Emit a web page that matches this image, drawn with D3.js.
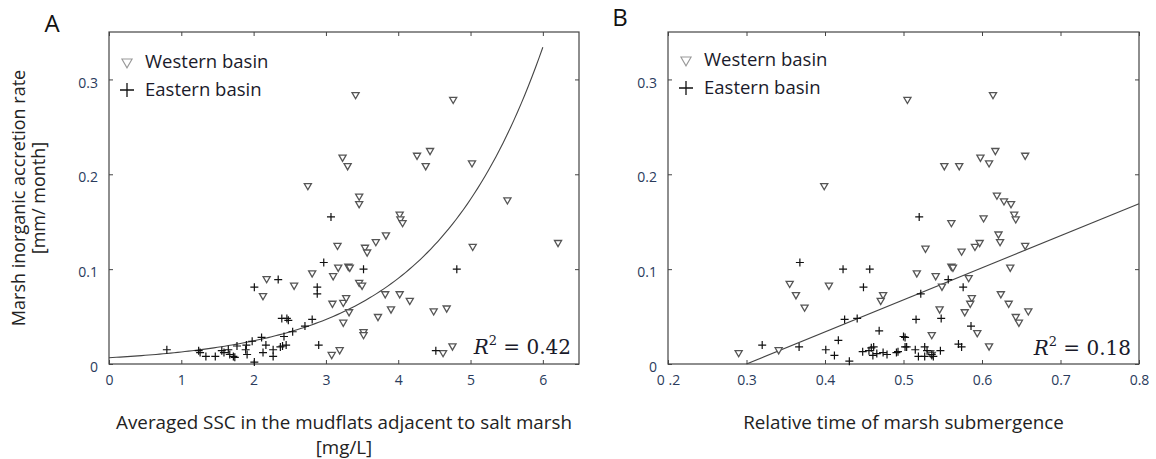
<!DOCTYPE html>
<html><head><meta charset="utf-8">
<script src="https://cdn.jsdelivr.net/npm/d3@7"></script>
<style>
body{margin:0;background:#fff;}
svg{display:block;}
text{font-family:"Open Sans",sans-serif;}
</style></head>
<body><svg id="c" width="1156" height="459"></svg>
<script>
// ---- data ----
const panelLabels = ["A", "B"];
const legendLabels = ["Western basin", "Eastern basin"];
const yTitle = ["Marsh inorganic accretion rate", "[mm/ month]"];
const xTitleA = ["Averaged SSC in the mudflats adjacent to salt marsh", "[mg/L]"];
const xTitleB = ["Relative time of marsh submergence"];
const xTicksA = [0, 1, 2, 3, 4, 5, 6];
const xTicksB = [0.2, 0.3, 0.4, 0.5, 0.6, 0.7, 0.8];
const yTicks = [0, 0.1, 0.2, 0.3];
const r2Values = ["0.42", "0.18"];
// exponential fit y = a*exp(b*x), x range
const fitA = [0.0066, 0.654];
const fitARange = [0, 6.0];
// linear fit y = m*x + c, x range
const fitB = [0.338, -0.1014];
const fitBRange = [0.3, 0.8];

const westernA = [[2.75,0.188],[3.41,0.284],[4.76,0.279],[3.23,0.218],[3.30,0.209],[4.26,0.220],[4.44,0.225],[4.38,0.209],[5.02,0.212],[3.46,0.177],[3.46,0.169],[5.51,0.173],[4.02,0.158],[4.03,0.153],[4.06,0.149],[3.83,0.136],[3.69,0.129],[3.16,0.125],[3.54,0.123],[3.57,0.118],[5.03,0.124],[6.21,0.128],[3.17,0.102],[3.31,0.103],[3.33,0.102],[3.10,0.093],[3.46,0.086],[3.50,0.083],[3.82,0.074],[4.02,0.074],[4.16,0.067],[3.09,0.064],[3.24,0.065],[3.28,0.070],[3.32,0.055],[3.90,0.058],[4.67,0.059],[4.49,0.056],[3.72,0.050],[3.24,0.044],[3.52,0.034],[3.52,0.031],[4.75,0.019],[4.62,0.012],[3.19,0.015],[3.08,0.010],[2.81,0.096],[2.18,0.090],[2.56,0.083],[2.13,0.072]];
const easternA = [[3.07,0.155],[2.97,0.107],[2.34,0.089],[2.01,0.081],[2.88,0.081],[2.88,0.074],[2.39,0.048],[2.46,0.048],[2.48,0.046],[2.81,0.047],[2.71,0.040],[2.54,0.034],[2.42,0.029],[2.11,0.028],[1.98,0.024],[2.90,0.020],[0.80,0.015],[1.24,0.014],[1.26,0.012],[1.34,0.008],[1.47,0.008],[1.56,0.014],[1.59,0.012],[1.65,0.015],[1.67,0.010],[1.72,0.008],[1.74,0.007],[1.77,0.019],[1.89,0.015],[1.91,0.010],[1.90,0.020],[2.01,0.002],[2.13,0.012],[2.17,0.020],[2.27,0.015],[2.27,0.008],[2.37,0.018],[2.40,0.019],[2.45,0.020],[3.52,0.100],[4.81,0.100],[4.52,0.014]];
const westernB = [[0.399,0.188],[0.505,0.279],[0.614,0.284],[0.552,0.209],[0.571,0.209],[0.598,0.218],[0.609,0.212],[0.617,0.225],[0.655,0.220],[0.619,0.178],[0.628,0.172],[0.637,0.169],[0.641,0.158],[0.643,0.153],[0.602,0.154],[0.561,0.149],[0.621,0.137],[0.623,0.129],[0.597,0.128],[0.591,0.124],[0.574,0.119],[0.528,0.122],[0.655,0.125],[0.561,0.103],[0.563,0.102],[0.517,0.096],[0.541,0.093],[0.583,0.091],[0.636,0.102],[0.549,0.082],[0.624,0.074],[0.634,0.064],[0.587,0.070],[0.585,0.064],[0.578,0.055],[0.546,0.058],[0.659,0.056],[0.643,0.050],[0.647,0.044],[0.594,0.033],[0.536,0.031],[0.609,0.019],[0.534,0.012],[0.536,0.010],[0.290,0.012],[0.341,0.015],[0.355,0.085],[0.363,0.073],[0.374,0.060],[0.405,0.083],[0.474,0.073],[0.471,0.067]];
const easternB = [[0.520,0.155],[0.557,0.089],[0.576,0.081],[0.522,0.074],[0.516,0.047],[0.548,0.048],[0.586,0.040],[0.500,0.029],[0.502,0.028],[0.502,0.018],[0.515,0.015],[0.527,0.018],[0.530,0.014],[0.547,0.014],[0.570,0.021],[0.574,0.018],[0.519,0.008],[0.527,0.008],[0.536,0.010],[0.538,0.008],[0.368,0.107],[0.423,0.100],[0.457,0.100],[0.449,0.081],[0.425,0.047],[0.441,0.048],[0.469,0.035],[0.417,0.025],[0.320,0.020],[0.367,0.018],[0.401,0.015],[0.412,0.009],[0.431,0.003],[0.448,0.013],[0.456,0.014],[0.459,0.017],[0.462,0.018],[0.461,0.009],[0.466,0.011],[0.474,0.012],[0.479,0.010],[0.491,0.012],[0.493,0.013],[0.504,0.018]];

// ---- drawing ----
const svg = d3.select("#c");
const tickColor = "#2a3b5c";
const plotTop = 32, plotBottom = 364;

function panel(cfg){
  const x = d3.scaleLinear().domain(cfg.xDomain).range([cfg.left, cfg.right]);
  const y = d3.scaleLinear().domain([0, 0.35]).range([plotBottom, plotTop]);
  const g = svg.append("g");

  // frame
  g.append("rect").attr("x", cfg.left).attr("y", plotTop)
    .attr("width", cfg.right - cfg.left).attr("height", plotBottom - plotTop)
    .attr("fill", "none").attr("stroke", "#444").attr("stroke-width", 1.2);

  const styleAxis = (sel, labels) => {
    sel.select(".domain").remove();
    sel.selectAll(".tick line").attr("stroke", "#444").attr("stroke-width", 1);
    sel.selectAll(".tick text").attr("fill", tickColor).style("font-size", "14px")
       .style("font-family", "'Open Sans', sans-serif");
    if (!labels) sel.selectAll(".tick text").remove();
  };
  g.append("g").attr("transform", `translate(0,${plotBottom})`)
    .call(d3.axisBottom(x).tickValues(cfg.xTicks).tickSize(-4).tickPadding(11).tickFormat(cfg.xFmt))
    .call(s => styleAxis(s, true));
  g.append("g").attr("transform", `translate(0,${plotTop})`)
    .call(d3.axisTop(x).tickValues(cfg.xTicks).tickSize(-4))
    .call(s => styleAxis(s, false));
  g.append("g").attr("transform", `translate(${cfg.left},0)`)
    .call(d3.axisLeft(y).tickValues(yTicks).tickSize(-4).tickPadding(11).tickFormat(d => d === 0 ? "0" : d3.format(".1f")(d)))
    .call(s => { styleAxis(s, true); s.selectAll(".tick text").attr("dy", "0.55em"); });
  g.append("g").attr("transform", `translate(${cfg.right},0)`)
    .call(d3.axisRight(y).tickValues(yTicks).tickSize(-4))
    .call(s => styleAxis(s, false));

  // fit curve
  g.append("path").datum(cfg.curve)
    .attr("d", d3.line().x(d => x(d[0])).y(d => y(d[1])))
    .attr("fill", "none").attr("stroke", "#444").attr("stroke-width", 1.1);

  // western (triangles)
  const tri = d3.symbol().type(d3.symbolTriangle).size(22);
  g.selectAll(".w").data(cfg.west).join("path")
    .attr("d", tri)
    .attr("transform", d => `translate(${x(d[0])},${y(d[1])}) rotate(180)`)
    .attr("fill", "#fff").attr("stroke", "#555").attr("stroke-width", 1.3);
  // eastern (crosses)
  const cs = 4;
  g.selectAll(".e").data(cfg.east).join("path")
    .attr("d", d => `M${x(d[0]) - cs},${y(d[1])}H${x(d[0]) + cs}M${x(d[0])},${y(d[1]) - cs}V${y(d[1]) + cs}`)
    .attr("stroke", "#111").attr("stroke-width", 1.2).attr("fill", "none");

  // legend
  const lx = cfg.left + 18;
  g.append("path").attr("d", d3.symbol().type(d3.symbolTriangle).size(45))
    .attr("transform", `translate(${lx},${cfg.legY[0] - 6}) rotate(180)`)
    .attr("fill", "#fff").attr("stroke", "#999").attr("stroke-width", 1.1);
  g.append("text").attr("x", lx + 18).attr("y", cfg.legY[0]).text(legendLabels[0])
    .attr("fill", "#1a1a2a").style("font-size", "18.5px");
  g.append("path").attr("d", `M${lx - 7},${cfg.legY[1] - 6}H${lx + 7}M${lx},${cfg.legY[1] - 13}V${cfg.legY[1] + 1}`)
    .attr("stroke", "#111").attr("stroke-width", 1.3);
  g.append("text").attr("x", lx + 18).attr("y", cfg.legY[1]).text(legendLabels[1])
    .attr("fill", "#1a1a2a").style("font-size", "18.5px");

  // R^2
  const rt = g.append("text").attr("x", cfg.right - 8).attr("y", cfg.r2Y).attr("text-anchor", "end")
    .style("font-family", "'DejaVu Serif', 'Liberation Serif', serif").style("font-size", "20px").attr("fill", "#1a1a2a");
  rt.append("tspan").text("R").style("font-style", "italic");
  rt.append("tspan").text("2").attr("dy", -9).style("font-size", "13px");
  rt.append("tspan").text(" = " + cfg.r2).attr("dy", 9);

  // x title
  cfg.xTitle.forEach((t, i) => {
    g.append("text").attr("x", (cfg.left + cfg.right) / 2).attr("y", 429 + i * 25)
      .attr("text-anchor", "middle").style("font-size", "18.8px").attr("fill", "#222").text(t);
  });
  // panel letter
  g.append("text").attr("x", cfg.letterX).attr("y", cfg.letterY).attr("text-anchor", "middle")
    .style("font-size", "24px").attr("fill", "#111").text(cfg.letter);
}

const curveA = d3.range(fitARange[0], fitARange[1] + 1e-9, 0.05).map(v => [v, fitA[0] * Math.exp(fitA[1] * v)]);
const curveB = fitBRange.map(v => [v, fitB[0] * v + fitB[1]]);

panel({left: 109, right: 579, xDomain: [0, 6.5], xTicks: xTicksA, xFmt: d3.format("d"),
  west: westernA, east: easternA, curve: curveA, r2: r2Values[0], r2Y: 354,
  xTitle: xTitleA, letter: panelLabels[0], letterX: 52, letterY: 32, legY: [68, 96]});
panel({left: 668, right: 1139, xDomain: [0.2, 0.8], xTicks: xTicksB, xFmt: d => d === 0.2 ? "0 .2" : d3.format(".1f")(d),
  west: westernB, east: easternB, curve: curveB, r2: r2Values[1], r2Y: 355,
  xTitle: xTitleB, letter: panelLabels[1], letterX: 620, letterY: 26, legY: [66, 94]});

// y title
yTitle.forEach((t, i) => {
  svg.append("text").attr("transform", `translate(${25 + i * 20},198) rotate(-90)`)
    .attr("text-anchor", "middle").style("font-size", "18px").attr("fill", "#222").text(t);
});
</script></body></html>
